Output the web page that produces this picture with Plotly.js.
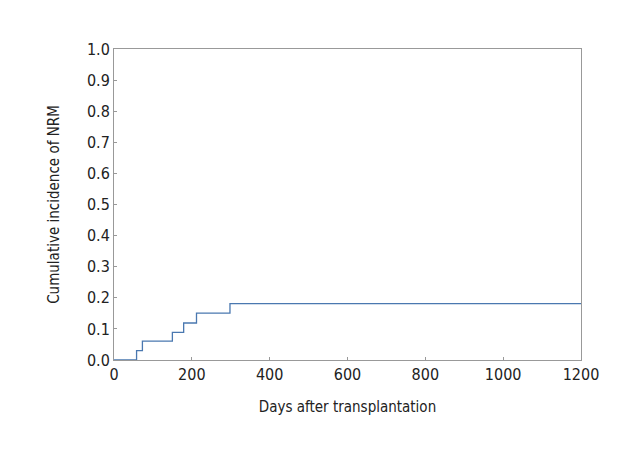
<!DOCTYPE html>
<html>
<head>
<meta charset="utf-8">
<script src="https://cdn.plot.ly/plotly-3.0.1.min.js"></script>
<style>html,body{margin:0;padding:0;background:#fff}#chart{width:640px;height:460px}</style>
</head>
<body>
<div id="chart"></div>
<script>
const days = [0, 58, 73, 150, 179, 212, 298, 1200];
const nrm = [0.0, 0.030, 0.061, 0.089, 0.119, 0.151, 0.181, 0.181];
const xTicks = [0, 200, 400, 600, 800, 1000, 1200];
const yTicks = [0.0, 0.1, 0.2, 0.3, 0.4, 0.5, 0.6, 0.7, 0.8, 0.9, 1.0];

const font = '"DejaVu Sans Condensed", "Liberation Sans Narrow", sans-serif';
const trace = {
  x: days, y: nrm, type: 'scatter', mode: 'lines',
  line: {shape: 'hv', color: '#4a78b0', width: 1.3},
  hoverinfo: 'skip'
};
const layout = {
  width: 640, height: 460,
  margin: {l: 114, r: 59, t: 49, b: 100},
  paper_bgcolor: '#fff', plot_bgcolor: '#fff',
  showlegend: false,
  font: {family: font, size: 16, color: '#222'},
  xaxis: {
    range: [0, 1200], tickvals: xTicks, ticktext: xTicks.map(String),
    showgrid: false, zeroline: false, showline: true, mirror: true,
    linecolor: '#999', linewidth: 1, ticks: 'inside', ticklen: 3, tickcolor: '#999',
    title: {text: 'Days after transplantation', font: {family: font, size: 15, color: '#222'}, standoff: 18},
    tickfont: {family: font, size: 16, color: '#222'}
  },
  yaxis: {
    range: [0, 1], tickvals: yTicks, ticktext: yTicks.map(v => v.toFixed(1)),
    showgrid: false, zeroline: false, showline: true, mirror: true,
    linecolor: '#999', linewidth: 1, ticks: 'inside', ticklen: 3, tickcolor: '#999',
    title: {text: 'Cumulative incidence of NRM', font: {family: font, size: 15, color: '#222'}, standoff: 23},
    tickfont: {family: font, size: 16, color: '#222'}
  }
};
Plotly.newPlot('chart', [trace], layout, {staticPlot: true, displayModeBar: false});
</script>
</body>
</html>
